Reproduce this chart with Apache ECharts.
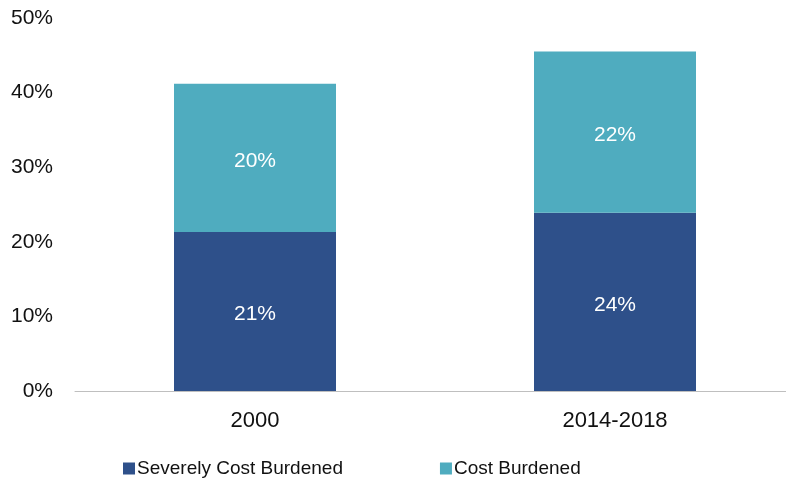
<!DOCTYPE html>
<html>
<head>
<meta charset="utf-8">
<script src="https://cdn.jsdelivr.net/npm/echarts@6/dist/echarts.min.js"></script>
<style>
  html, body { margin: 0; padding: 0; background: #fff; overflow: hidden; }
  /* plot area runs a little past the right edge of the window, as in the source */
  #chart { width: 795px; height: 481px; }
</style>
</head>
<body>
<div id="chart"></div>
<script>
const categories = ["2000", "2014-2018"];
const severelyCostBurdened = [21.3, 23.9];
const costBurdened = [19.9, 21.6];
const yTicks = [0, 10, 20, 30, 40, 50];

const font = "'Liberation Sans', Arial, sans-serif";
const chart = echarts.init(document.getElementById("chart"));
const label = {
  show: true,
  color: "#fff",
  fontFamily: font,
  fontSize: 21,
  offset: [0, 3],
  formatter: (p) => Math.round(p.value) + "%",
};
chart.setOption({
  animation: false,
  textStyle: { fontFamily: font },
  grid: { left: 75, right: 0, top: 18, bottom: 90 },
  legend: {
    bottom: -2,
    left: 118,
    itemWidth: 12,
    itemHeight: 12,
    itemGap: 97,
    icon: "rect",
    textStyle: { fontSize: 19, color: "#111", padding: [0, 0, 0, -3] },
    data: ["Severely Cost Burdened", "Cost Burdened"],
  },
  xAxis: {
    type: "category",
    data: categories,
    axisTick: { show: false },
    axisLine: { lineStyle: { color: "#bfbfbf", width: 1 } },
    axisLabel: { color: "#111", fontSize: 22, margin: 19 },
  },
  yAxis: {
    type: "value",
    min: yTicks[0],
    max: yTicks[yTicks.length - 1],
    interval: 10,
    splitLine: { show: false },
    axisLabel: { color: "#111", fontSize: 21, margin: 22, formatter: "{value}%" },
  },
  series: [
    {
      name: "Severely Cost Burdened",
      type: "bar",
      stack: "total",
      barWidth: "45%",
      data: severelyCostBurdened,
      itemStyle: { color: "#2e508a" },
      label,
    },
    {
      name: "Cost Burdened",
      type: "bar",
      stack: "total",
      barWidth: "45%",
      data: costBurdened,
      itemStyle: { color: "#4facbf" },
      label,
    },
  ],
});
</script>
</body>
</html>
